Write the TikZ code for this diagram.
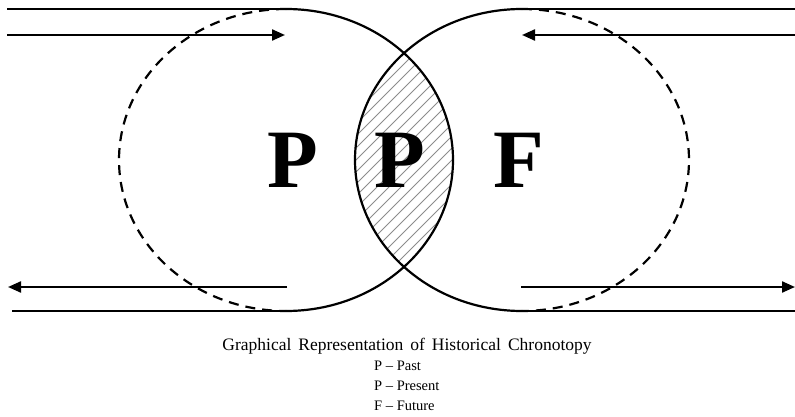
\documentclass[tikz,border=0pt]{standalone}
\usepackage{fontspec}
\setmainfont{Liberation Serif}
\newfontfamily\capfont[WordSpace=1.6]{Liberation Serif}
\usetikzlibrary{arrows.meta}
\begin{document}
\begin{tikzpicture}[x=1pt,y=-1pt,
  ring/.style={line width=2.2pt, black},
  ringdash/.style={line width=2.2pt, black, dash pattern=on 10pt off 7pt},
  rail/.style={line width=2.2pt, black},
  arr/.style={line width=2.2pt, black, -{Triangle[length=13pt,width=11pt]}},
  hatch/.style={line width=0.8pt, black!45},
  bigletter/.style={font=\fontsize{83}{90}\selectfont\bfseries, inner sep=0pt, anchor=base},
  captext/.style={font=\capfont\fontsize{17.5}{20}\selectfont, inner sep=0pt, anchor=base},
  legend/.style={font=\fontsize{14.5}{17}\selectfont, inner sep=0pt, anchor=base west}]
\useasboundingbox (0,0) rectangle (795,417);
\fill[white] (0,0) rectangle (795,417);
\coordinate (LC) at (286,160);
\coordinate (RC) at (522,160);
% hatching of the overlap
\begin{scope}
  \clip (LC) ellipse [x radius=167, y radius=151];
  \clip (RC) ellipse [x radius=167, y radius=151];
  \foreach \i in {-25,...,25} {
    \draw[hatch] (404+\i*12-200,360) -- ++(400,-400);
  }
\end{scope}
% left ring
\coordinate (Ltop) at (286,9);
\coordinate (Rtop) at (522,9);
\draw[ring] (Ltop) arc[start angle=-90, end angle=90, x radius=167, y radius=151];
\draw[ringdash] (Ltop) arc[start angle=-90, end angle=-270, x radius=167, y radius=151];
% right ring
\draw[ring] (Rtop) arc[start angle=-90, end angle=-270, x radius=167, y radius=151];
\draw[ringdash] (Rtop) arc[start angle=-90, end angle=90, x radius=167, y radius=151];
% rails
\coordinate (Lbot) at (286,311);
\coordinate (Rbot) at (522,311);
\coordinate (tl) at (7,9);
\coordinate (bl) at (12,311);
\coordinate (tr) at (795,9);
\coordinate (br) at (795,311);
\draw[rail] (tl) -- (Ltop);
\draw[rail] (bl) -- (Lbot);
\draw[rail] (Rtop) -- (tr);
\draw[rail] (Rbot) -- (br);
% arrows
\coordinate (a1s) at (7,35);   \coordinate (a1e) at (285,35);
\coordinate (a2s) at (287,287); \coordinate (a2e) at (8,287);
\coordinate (a3s) at (795,35); \coordinate (a3e) at (522,35);
\coordinate (a4s) at (521,287); \coordinate (a4e) at (795,287);
\draw[arr] (a1s) -- (a1e);
\draw[arr] (a2s) -- (a2e);
\draw[arr] (a3s) -- (a3e);
\draw[arr] (a4s) -- (a4e);
% letters
\node[bigletter] (past) at (293,187) {P};
\node[bigletter] (present) at (399.5,187) {P};
\node[bigletter] (future) at (519,187) {F};
% caption
\node[captext] (cap) at (407,350) {Graphical Representation of Historical Chronotopy};
\node[legend] (l1) at (374,370.5) {P – Past};
\node[legend] (l2) at (374,390) {P – Present};
\node[legend] (l3) at (374,410) {F – Future};
\end{tikzpicture}
\end{document}
